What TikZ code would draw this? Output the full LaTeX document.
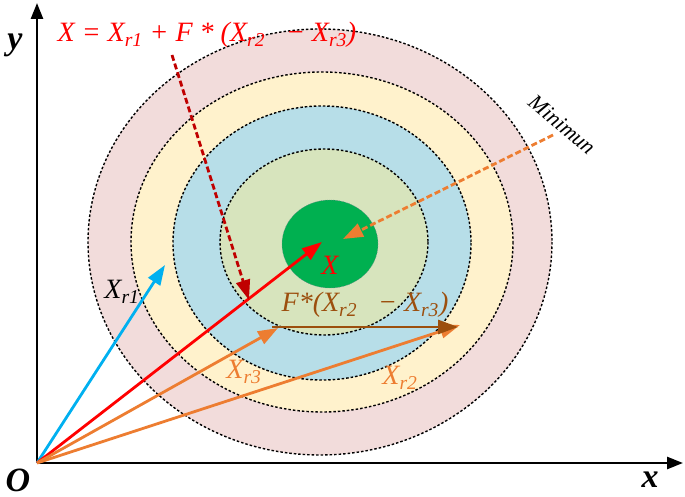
\documentclass[tikz,border=0pt]{standalone}
\usepackage{fontspec}
\setmainfont{Liberation Serif}
\usetikzlibrary{arrows.meta}
\definecolor{cpink}{HTML}{F2DCDB}
\definecolor{cyel}{HTML}{FFF2CC}
\definecolor{cblue}{HTML}{B7DEE8}
\definecolor{clg}{HTML}{D7E4BD}
\definecolor{cgreen}{HTML}{00B050}
\definecolor{corange}{HTML}{ED7D31}
\definecolor{cbrown}{HTML}{9C4F0E}
\definecolor{cdred}{HTML}{C00000}
\definecolor{cskyb}{HTML}{00B0F0}
\begin{document}
\begin{tikzpicture}[x=1pt,y=-1pt,
  ring/.style={draw=black,dash pattern=on 2.5pt off 2pt,line width=1.4pt},
  vec/.style={line width=2.8pt,-{Triangle[length=20pt,width=14pt]}},
  dvec/.style={line width=2.8pt,dash pattern=on 6pt off 3pt,-{Triangle[length=20pt,width=14pt]}},
  lbl/.style={font=\fontsize{28}{30}\selectfont\itshape,inner sep=0pt}]
\useasboundingbox (0,0) rectangle (685,497);
\fill[ring,fill=cpink] (320,242) ellipse [x radius=232,y radius=213];
\fill[ring,fill=cyel] (322,242) ellipse [x radius=191,y radius=170];
\fill[ring,fill=cblue] (322,243) ellipse [x radius=149,y radius=137];
\fill[ring,fill=clg] (324,242) ellipse [x radius=104,y radius=93];
\fill[cgreen,draw=cblue!60!black,dash pattern=on 1pt off 1pt] (330,244) ellipse [x radius=48,y radius=44];
\coordinate (O) at (37,463);
\coordinate (ytip) at (37,3);
\coordinate (xtip) at (683,463);
\draw[line width=2.6pt,-{Triangle[length=16pt,width=12pt]}] (O) -- (ytip);
\draw[line width=2.6pt,-{Triangle[length=16pt,width=12pt]}] (O) -- (xtip);
\node[font=\fontsize{34}{34}\selectfont\bfseries\itshape] (ly) at (15,45) {y};
\node[font=\fontsize{34}{34}\selectfont\bfseries\itshape] (lx) at (650,480) {x};
\node[font=\fontsize{34}{34}\selectfont\bfseries\itshape] (lo) at (18,480) {O};
\coordinate (b1) at (165,265);
\coordinate (r1) at (322,242);
\coordinate (o3) at (278,328);
\coordinate (o2) at (460,325);
\coordinate (bs) at (272,327);
\draw[vec,cskyb] (O) -- (b1);
\draw[vec,red] (O) -- (r1);
\draw[vec,corange] (O) -- (o3);
\draw[vec,corange] (O) -- (o2);
\draw[vec,cbrown] (bs) -- (458,327);
\coordinate (d1s) at (172,55);
\coordinate (d1e) at (249,300);
\draw[dvec,cdred] (d1s) -- (d1e);
\coordinate (d2s) at (553,135);
\coordinate (d2e) at (343,239);
\draw[dvec,corange] (d2s) -- (d2e);
\node[lbl,red] (formula) at (207,35) {X = X\textsubscript{\itshape r1} + F * (X\textsubscript{\itshape r2} \ \ − X\textsubscript{\itshape r3})};
\node[rotate=-40,font=\fontsize{22}{22}\selectfont\itshape,inner sep=0pt] (min) at (562,125) {Minimun};
\node[lbl] (lxr1) at (122,292) {X\textsubscript{\itshape r1}};
\node[lbl,red] (lX) at (330,265) {X};
\node[lbl,cbrown] (lf) at (365,305) {F*(X\textsubscript{\itshape r2} \ \ − X\textsubscript{\itshape r3})};
\node[lbl,corange] (lxr3) at (244,372) {X\textsubscript{\itshape r3}};
\node[lbl,corange] (lxr2) at (400,378) {X\textsubscript{\itshape r2}};
\end{tikzpicture}
\end{document}
